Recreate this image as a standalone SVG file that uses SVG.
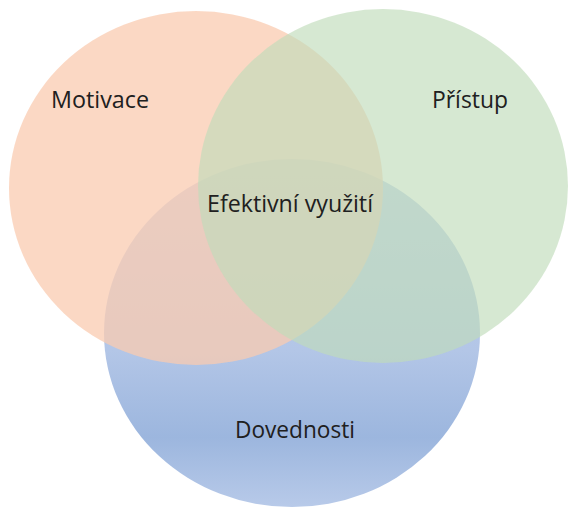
<svg xmlns="http://www.w3.org/2000/svg" width="569" height="510" viewBox="0 0 569 510">
  <defs>
    <linearGradient id="blueGrad" x1="0" y1="0" x2="0" y2="1">
      <stop offset="0" stop-color="#C4D2EC"/>
      <stop offset="0.55" stop-color="#B3C6E7"/>
      <stop offset="0.8" stop-color="#9CB6DE"/>
      <stop offset="1" stop-color="#B8CAE9"/>
    </linearGradient>
    <style>
      .lbl { font-family: "Open Sans", "Noto Sans", "Liberation Sans", sans-serif; font-size: 24px; font-weight: 500; fill: #202020; text-anchor: middle; }
    </style>
  </defs>
  <rect width="569" height="510" fill="#ffffff"/>
  <g id="dovednosti">
    <ellipse cx="292" cy="333" rx="188" ry="174" fill="url(#blueGrad)"/>
  </g>
  <g id="motivace">
    <ellipse cx="196" cy="188" rx="187" ry="177" fill="#F9CBB0" fill-opacity="0.75"/>
  </g>
  <g id="pristup">
    <ellipse cx="383" cy="186" rx="185" ry="177" fill="#C0DCBA" fill-opacity="0.65"/>
  </g>
  <g id="connectors"/>
  <g id="labels">
    <text class="lbl" x="100" y="108" textLength="98" lengthAdjust="spacingAndGlyphs">Motivace</text>
    <text class="lbl" x="470" y="108" textLength="76" lengthAdjust="spacingAndGlyphs">Přístup</text>
    <text class="lbl" x="290" y="212" textLength="166" lengthAdjust="spacingAndGlyphs">Efektivní využití</text>
    <text class="lbl" x="295" y="438" textLength="120" lengthAdjust="spacingAndGlyphs">Dovednosti</text>
  </g>
</svg>
